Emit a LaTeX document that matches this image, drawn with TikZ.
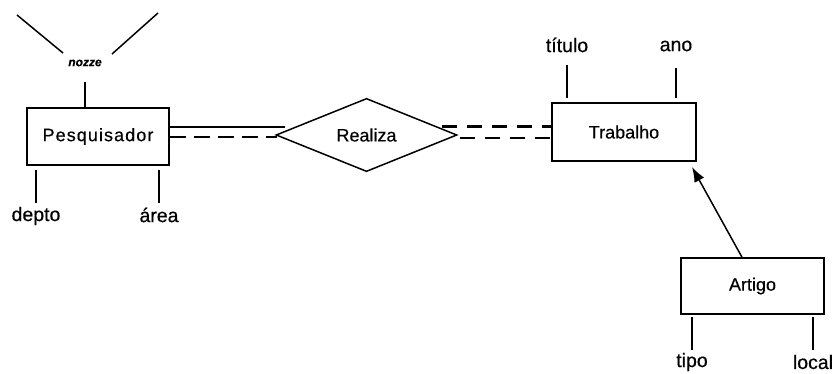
\documentclass[tikz,border=0pt]{standalone}
\usepackage{fontspec}
\setmainfont{Liberation Sans}[FakeBold=0.4]
\usetikzlibrary{shapes.geometric,arrows.meta,calc}
\begin{document}
\begin{tikzpicture}[x=1pt,y=-1pt,
  every path/.style={line width=1.5pt},
  entity/.style={draw,line width=1.5pt,inner sep=0pt,font=\fontsize{18}{21}\selectfont},
  attr/.style={inner sep=0pt,font=\fontsize{19.5}{23}\selectfont},
  rel/.style={draw,diamond,line width=1.5pt,inner sep=0pt,font=\fontsize{18}{21}\selectfont},
  dashA/.style={dash pattern=on 16pt off 8pt,line width=2.6pt},
  dashB/.style={dash pattern=on 15pt off 10pt,line width=2.6pt}]
\useasboundingbox (0,0) rectangle (835,373);
% entities
\node[entity,minimum width=142pt,minimum height=57pt] (pes) at (98,136.5) {\addfontfeature{LetterSpace=6}Pesquisador};
\node[entity,minimum width=144pt,minimum height=58pt] (trab) at (624,132) {Trabalho};
\node[entity,minimum width=143pt,minimum height=56pt] (art) at (752.5,286) {Artigo};
\node[rel,minimum width=181pt,minimum height=71pt] (rea) at (366.5,135) {Realiza};
% attributes
\node[attr,font=\bfseries\itshape\fontsize{12}{14}\selectfont] (nome) at (85,63) {nozze};
\node[attr] (depto) at (36,216) {depto};
\node[attr] (area) at (159,215) {área};
\node[attr] (titulo) at (567,45) {título};
\node[attr] (ano) at (676,46) {ano};
\node[attr] (tipo) at (692,362) {tipo};
\node[attr] (local) at (813,362) {local};
% free ends
\coordinate (n1) at (17,15);
\coordinate (n2) at (63,53);
\coordinate (n3) at (158,13);
\coordinate (n4) at (112,54);
\coordinate (s1) at (285,127);
\coordinate (s2) at (277,137);
\coordinate (t1) at (442,126.5);
\coordinate (t2) at (460,138);
% attribute lines
\draw (n1) -- (n2);
\draw (n3) -- (n4);
\draw (nome.south |- 0,82) -- (nome.south |- pes.north);
\draw (depto.north |- 0,170) -- (depto.north |- 0,203);
\draw (area.north |- 0,170) -- (area.north |- 0,203);
\draw (titulo.south |- 0,65) -- (titulo.south |- 0,98);
\draw (ano.south |- 0,68) -- (ano.south |- 0,98);
\draw (tipo.north |- 0,317) -- (tipo.north |- 0,350);
\draw (local.north |- 0,317) -- (local.north |- 0,350);
% relationship connectors
\draw[line width=2.8pt] (pes.east |- s1) -- (s1);
\draw[dashA] (pes.east |- s2) -- (s2);
\draw[dashB] (t1) -- (trab.west |- t1);
\draw[dashB] (t2) -- (trab.west |- t2);
% generalization
\draw[-{Latex[length=15pt,width=11pt]}] (art.north -| 742,0) -- (692,167);
\end{tikzpicture}
\end{document}
